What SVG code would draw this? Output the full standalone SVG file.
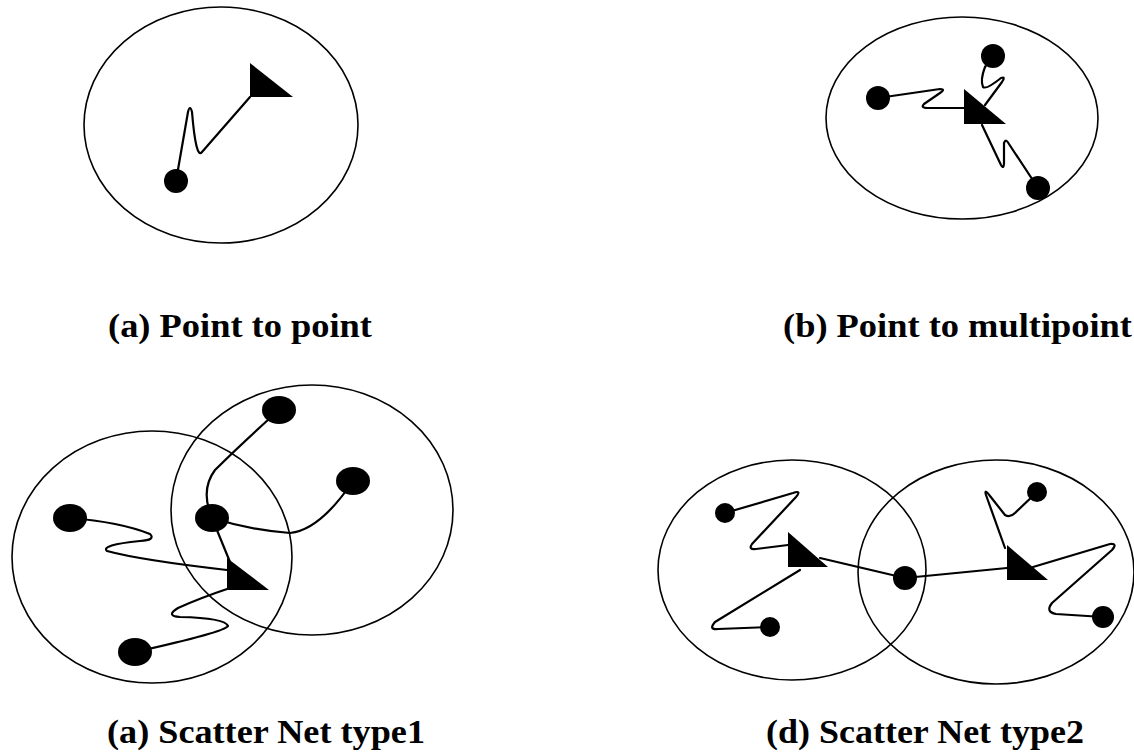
<svg xmlns="http://www.w3.org/2000/svg" width="1134" height="755" viewBox="0 0 1134 755">
<style>
.c{fill:none;stroke:#000;stroke-width:1.6}
.l{fill:none;stroke:#000;stroke-width:2.2;stroke-linejoin:round;stroke-linecap:round}
.d{fill:#000}
.t{fill:#000}
.lab{font-family:"Liberation Serif","Times New Roman",serif;font-weight:bold;font-size:33px;fill:#000}
</style>
<rect width="1134" height="755" fill="#fff"/>
<g id="panel-a">
<ellipse class="c" cx="221" cy="125" rx="137" ry="118"/>
<g id="connectors-a">
<path class="l" d="M176,181 L188,112 Q190,104 192,112 Q196,160 202,152 L250,97"/>
</g>
<polygon id="master-a" class="t" points="250,63 250,97 293,97"/>
<circle id="slave-a" class="d" cx="176" cy="181" r="12"/>
</g>
<g id="panel-b">
<ellipse class="c" cx="962" cy="118" rx="136" ry="101"/>
<g id="connectors-b">
<path class="l" d="M878,98 L940,89 Q946,89 940,93 L924,104 Q920,108 928,108 L964,108"/>
<path class="l" d="M993,56 L985,67 Q980,80 983,87 Q986,90 1001,78 Q1006,76 1002,82 L985,105"/>
<path class="l" d="M982,125 L1001,165 Q1004,170 1004,162 L1004,143 Q1006,138 1009,144 L1038,188"/>
</g>
<polygon id="master-b" class="t" points="964,89 964,124 1006,124"/>
<circle id="slave-b1" class="d" cx="993" cy="56" r="12"/>
<circle id="slave-b2" class="d" cx="878" cy="98" r="12"/>
<circle id="slave-b3" class="d" cx="1038" cy="188" r="12"/>
</g>
<g id="panel-c">
<ellipse class="c" cx="152" cy="557" rx="140" ry="126"/>
<ellipse class="c" cx="312" cy="510" rx="141" ry="125"/>
<g id="connectors-c">
<path class="l" d="M279,410 Q240,445 215,470 Q200,490 212,518"/>
<path class="l" d="M212,518 Q250,530 290,533 Q320,530 353,481"/>
<path class="l" d="M212,518 L230,562"/>
<path class="l" d="M70,518 Q120,522 150,534 Q156,540 140,541 Q100,545 107,551 Q140,560 227,570"/>
<path class="l" d="M230,588 Q200,598 178,608 Q165,616 180,617 Q225,618 228,626 Q225,632 135,652"/>
</g>
<polygon id="master-c" class="t" points="227,558 227,590 269,590"/>
<ellipse id="slave-c1" class="d" cx="279" cy="410" rx="17" ry="14"/>
<ellipse id="slave-c2" class="d" cx="353" cy="481" rx="17" ry="14"/>
<ellipse id="slave-c3" class="d" cx="212" cy="518" rx="17" ry="14"/>
<ellipse id="slave-c4" class="d" cx="70" cy="518" rx="17" ry="14"/>
<ellipse id="slave-c5" class="d" cx="135" cy="652" rx="17" ry="14"/>
</g>
<g id="panel-d">
<ellipse class="c" cx="792" cy="570" rx="134" ry="110"/>
<ellipse class="c" cx="996" cy="572" rx="138" ry="112"/>
<g id="connectors-d">
<path class="l" d="M725,513 L793,493 Q802,490 796,497 L752,544 Q748,550 756,549 L788,545"/>
<path class="l" d="M800,570 L715,622 Q708,630 718,629 L770,627"/>
<path class="l" d="M820,558 L905,578 L1007,568"/>
<path class="l" d="M1005,548 L986,495 Q984,488 990,496 L1005,515 Q1010,518 1015,513 L1037,492"/>
<path class="l" d="M1033,567 L1110,544 Q1118,543 1112,550 L1052,603 Q1045,612 1056,614 L1103,617"/>
</g>
<polygon id="master-d1" class="t" points="788,532 788,567 828,567"/>
<polygon id="master-d2" class="t" points="1007,545 1007,580 1048,580"/>
<circle id="slave-d1" class="d" cx="725" cy="513" r="10"/>
<circle id="slave-d2" class="d" cx="770" cy="627" r="10"/>
<circle id="bridge-d" class="d" cx="905" cy="578" r="12"/>
<circle id="slave-d3" class="d" cx="1037" cy="492" r="10"/>
<circle id="slave-d4" class="d" cx="1103" cy="617" r="11"/>
</g>
<g id="labels">
<text class="lab" x="108" y="337" textLength="264" lengthAdjust="spacingAndGlyphs">(a) Point to point</text>
<text class="lab" x="783" y="337" textLength="349" lengthAdjust="spacingAndGlyphs">(b) Point to multipoint</text>
<text class="lab" x="107" y="743" textLength="318" lengthAdjust="spacingAndGlyphs">(a) Scatter Net type1</text>
<text class="lab" x="766" y="743" textLength="318" lengthAdjust="spacingAndGlyphs">(d) Scatter Net type2</text>
</g>
</svg>
